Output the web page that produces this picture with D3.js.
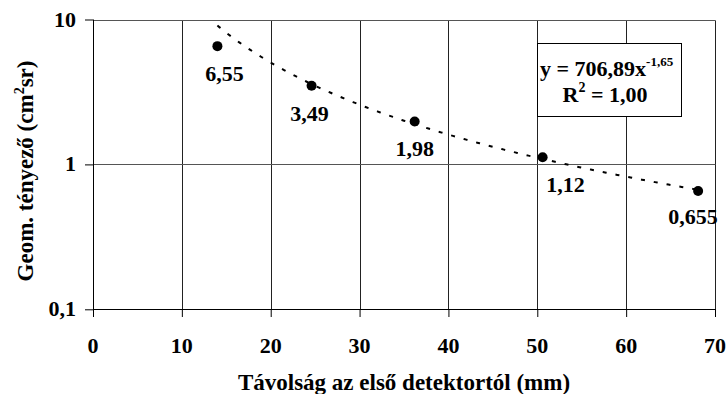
<!DOCTYPE html>
<html>
<head>
<meta charset="utf-8">
<script src="https://cdn.jsdelivr.net/npm/d3@7"></script>
<style>
  body { margin: 0; background: #fff; }
  svg text { font-family: 'Liberation Serif', 'DejaVu Serif', serif; font-weight: 700; fill: #000; }
</style>
</head>
<body>
<svg id="chart" width="728" height="394"></svg>
<script>
// measured distances (mm) and geometric factors (cm2 sr)
const distances = [14.0, 24.6, 36.2, 50.6, 68.1];
const factors = [6.55, 3.49, 1.98, 1.12, 0.655];
const factorLabels = ['6,55', '3,49', '1,98', '1,12', '0,655'];
const xTicks = [0, 10, 20, 30, 40, 50, 60, 70];
const yTicks = [0.1, 1, 10];
const yTickLabels = ['0,1', '1', '10'];
// trendline y = a * x^b
const fitA = 706.89;
const fitB = -1.65;
const fitRange = [14.0, 68.0];

const svg = d3.select('#chart');
const plotLeft = 93, plotRight = 715, plotTop = 19.5, plotBottom = 309.3;

const x = d3.scaleLinear().domain([0, 70]).range([plotLeft, plotRight]);
const y = d3.scaleLog().domain([0.1, 10]).range([plotBottom, plotTop]);

const snap = v => Math.round(v) + 0.5;

// gridlines
svg.append('g').selectAll('line')
  .data(xTicks.slice(1))
  .enter().append('line')
  .attr('x1', d => snap(x(d))).attr('x2', d => snap(x(d)))
  .attr('y1', snap(plotTop)).attr('y2', snap(plotBottom))
  .attr('stroke', '#222').attr('stroke-width', 1);

svg.append('g').selectAll('line')
  .data(yTicks.slice(1))
  .enter().append('line')
  .attr('x1', snap(plotLeft)).attr('x2', snap(plotRight))
  .attr('y1', d => snap(y(d))).attr('y2', d => snap(y(d)))
  .attr('stroke', '#555').attr('stroke-width', 1);

// axes
const xAxis = d3.axisBottom(x).tickValues(xTicks).tickSize(8).tickFormat('');
svg.append('g')
  .attr('transform', 'translate(0,' + Math.round(plotBottom) + ')')
  .call(xAxis)
  .call(g => g.select('.domain').attr('stroke', '#000').attr('d', 'M' + plotLeft + ',0.5H' + plotRight))
  .call(g => g.selectAll('.tick line').attr('stroke', '#000'));

const yAxis = d3.axisLeft(y).tickValues(yTicks).tickSize(8).tickFormat('');
svg.append('g')
  .attr('transform', 'translate(' + plotLeft + ',0)')
  .call(yAxis)
  .call(g => g.select('.domain').attr('stroke', '#000').attr('d', 'M0.5,' + plotTop + 'V' + plotBottom))
  .call(g => g.selectAll('.tick line').attr('stroke', '#000'));

// tick labels
svg.append('g').selectAll('text')
  .data(xTicks)
  .enter().append('text')
  .attr('x', d => x(d))
  .attr('y', 353)
  .attr('text-anchor', 'middle')
  .style('font-size', '22px')
  .text(d => d);

svg.append('g').selectAll('text')
  .data(yTicks)
  .enter().append('text')
  .attr('x', 76)
  .attr('y', d => y(d) + 7)
  .attr('text-anchor', 'end')
  .style('font-size', '22px')
  .text((d, i) => yTickLabels[i]);

// axis titles
svg.append('text')
  .attr('x', 404)
  .attr('y', 390)
  .attr('text-anchor', 'middle')
  .style('font-size', '23px')
  .text('Távolság az első detektortól (mm)');

const yTitle = svg.append('text')
  .attr('transform', 'translate(33,171) rotate(-90)')
  .attr('text-anchor', 'middle')
  .style('font-size', '23px');
yTitle.append('tspan').text('Geom. tényező (cm');
yTitle.append('tspan').attr('dy', -9).style('font-size', '14px').text('2');
yTitle.append('tspan').attr('dy', 9).text('sr)');

// trendline
const fitX = d3.range(fitRange[0], fitRange[1] + 0.01, 0.25);
svg.append('path')
  .datum(fitX)
  .attr('d', d3.line().x(d => x(d)).y(d => y(fitA * Math.pow(d, fitB))))
  .attr('fill', 'none')
  .attr('stroke', '#000')
  .attr('stroke-width', 2)
  .attr('stroke-dasharray', '4,9');

// points
svg.append('g').selectAll('circle')
  .data(distances)
  .enter().append('circle')
  .attr('cx', d => x(d))
  .attr('cy', (d, i) => y(factors[i]))
  .attr('r', 5)
  .attr('fill', '#000');

// data labels (some were moved by hand in the original)
const labelDx = [7, -2, 0, 23, -5];
const labelDy = [35, 35, 35, 35, 33];
svg.append('g').selectAll('text')
  .data(distances)
  .enter().append('text')
  .attr('x', (d, i) => x(d) + labelDx[i])
  .attr('y', (d, i) => y(factors[i]) + labelDy[i])
  .attr('text-anchor', 'middle')
  .style('font-size', '22px')
  .text((d, i) => factorLabels[i]);

// equation box
const box = svg.append('g');
box.append('rect')
  .attr('x', 537.5).attr('y', 43.5)
  .attr('width', 144).attr('height', 73)
  .attr('fill', '#fff').attr('stroke', '#000').attr('stroke-width', 1);

const eq = box.append('text')
  .attr('x', 540).attr('y', 76)
  .style('font-size', '22px');
eq.append('tspan').text('y = 706,89x');
eq.append('tspan').attr('dy', -10).style('font-size', '13px').text('-1,65');

const r2 = box.append('text')
  .attr('x', 605).attr('y', 102)
  .attr('text-anchor', 'middle')
  .style('font-size', '22px');
r2.append('tspan').text('R');
r2.append('tspan').attr('dy', -10).style('font-size', '14px').text('2');
r2.append('tspan').attr('dy', 10).text(' = 1,00');
</script>
</body>
</html>
